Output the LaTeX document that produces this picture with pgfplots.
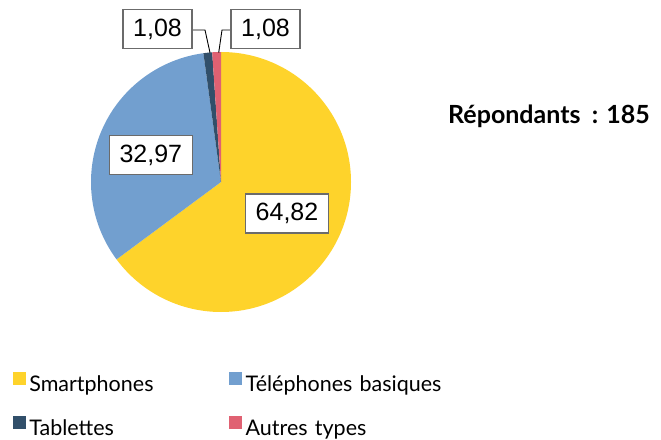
\documentclass[border=0pt]{standalone}
\usepackage{pgfplots}
\pgfplotsset{compat=1.18}
\usepackage{pgfplotstable}
\usepackage{fontspec}
\setmainfont{Lato}
\newfontfamily\arialfont{Liberation Sans}

\definecolor{piecol0}{HTML}{FED32B}
\definecolor{piecol1}{HTML}{729FCF}
\definecolor{piecol2}{HTML}{314F6A}
\definecolor{piecol3}{HTML}{E06172}
\definecolor{lblgray}{HTML}{6B6B6B}

% share of respondents by device type
\pgfplotstableread{
label value
Smartphones 64.82
Basiques 32.97
Tablettes 1.08
Autres 1.08
}\piedata

% start/end angles of the wedges, clockwise from the top
\pgfmathsetmacro\pietotal{0}%
\pgfplotsforeachungrouped \i in {0,...,3}{%
  \pgfplotstablegetelem{\i}{value}\of\piedata
  \pgfmathsetmacro\pietotal{\pietotal+\pgfplotsretval}}%
\def\piecur{90}%
\pgfplotsforeachungrouped \i in {0,...,3}{%
  \pgfplotstablegetelem{\i}{value}\of\piedata
  \pgfmathsetmacro\pienext{\piecur-\pgfplotsretval/\pietotal*360}%
  \expandafter\xdef\csname piestart\i\endcsname{\piecur}%
  \expandafter\xdef\csname pieend\i\endcsname{\pienext}%
  \global\let\piecur\pienext}%

\begin{document}
\begin{tikzpicture}[
    lbl/.style={draw=lblgray, line width=1.3pt, fill=white, inner sep=0pt,
        font=\arialfont\fontsize{25}{30}\selectfont, minimum height=39pt},
]
\begin{axis}[
    x=1pt, y=1pt,
    xmin=0, xmax=661, ymin=0, ymax=436,
    hide axis, clip=false,
    legend columns=2,
    legend style={
        draw=none, fill=none, inner sep=0pt,
        at={(axis cs:12.7,30.3)}, anchor=west,
        font=\fontsize{21.5}{24}\selectfont,
        nodes={inner sep=0pt, inner xsep=4pt, text width=196pt,
               text height=16pt, text depth=4pt},
        row sep=20pt,
    },
    legend cell align=left,
]
% keep the full canvas in the bounding box
\path (rel axis cs:0,0) rectangle (rel axis cs:1,1);

\pgfplotsinvokeforeach{0,...,3}{%
  \fill[piecol#1] (axis cs:221,254) -- ++({\csname piestart#1\endcsname}:130pt)
    arc[start angle=\csname piestart#1\endcsname,
        end angle=\csname pieend#1\endcsname, radius=130pt] -- cycle;
}

\addlegendimage{legend image code/.code={\fill[piecol0] (0pt,1.5pt) rectangle (12pt,13.5pt);}}
\addlegendentry{Smartphones}
\addlegendimage{legend image code/.code={\fill[piecol1] (0pt,1.5pt) rectangle (12pt,13.5pt);}}
\addlegendentry{Téléphones basiques}
\addlegendimage{legend image code/.code={\fill[piecol2] (0pt,1.5pt) rectangle (12pt,13.5pt);}}
\addlegendentry{Tablettes}
\addlegendimage{legend image code/.code={\fill[piecol3] (0pt,1.5pt) rectangle (12pt,13.5pt);}}
\addlegendentry{Autres types}

% value labels
\draw[black, line width=0.9pt] (axis cs:192,406) -- (axis cs:205,406) -- (axis cs:210,383.3);
\draw[black, line width=0.9pt] (axis cs:231,406) -- (axis cs:222,406) -- (axis cs:218.7,383.3);
\node[lbl, minimum width=83pt] at (axis cs:287,222.6) {64,82};
\node[lbl, minimum width=83pt] at (axis cs:150.8,281) {32,97};
\node[lbl, minimum width=69pt] at (axis cs:157.5,406.7) {1,08};
\node[lbl, minimum width=69pt] at (axis cs:265.5,406.8) {1,08};

\node[anchor=base west, inner sep=0pt, font=\bfseries\fontsize{25}{30}\selectfont]
    at (axis cs:448,312.7) {Répondants\hspace{0.45em}: 185};
\end{axis}
\end{tikzpicture}
\end{document}
